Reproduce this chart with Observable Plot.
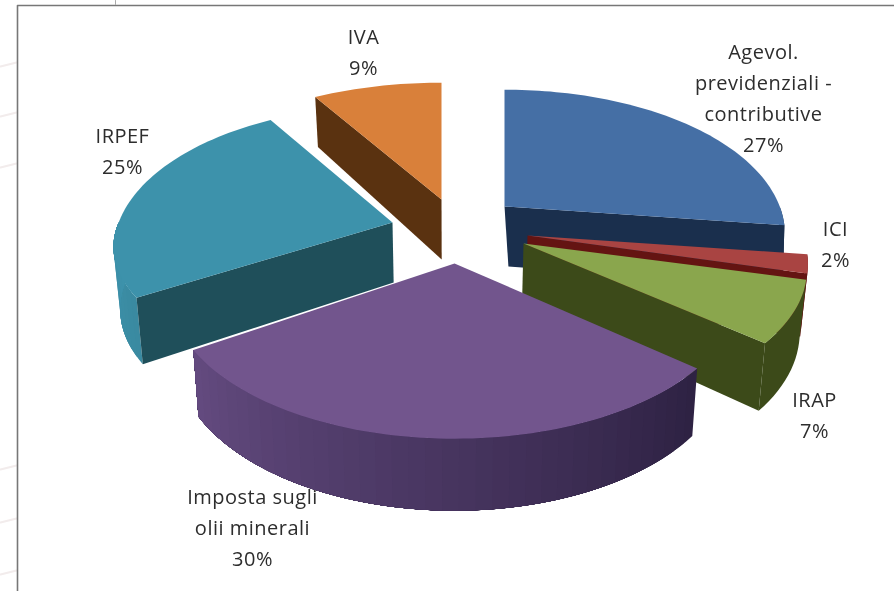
<!DOCTYPE html>
<html>
<head>
<meta charset="utf-8">
<script src="https://cdn.jsdelivr.net/npm/d3@7"></script>
<script src="https://cdn.jsdelivr.net/npm/@observablehq/plot@0.6"></script>
<style>
html,body{margin:0;padding:0;background:#fff;overflow:hidden}
svg{display:block;filter:blur(0.35px)}
</style>
</head>
<body>
<div id="chart"></div>
<script>
// Data, clockwise from the top of the pie
const categories = ["Agevol.\nprevidenziali -\ncontributive", "ICI", "IRAP", "Imposta sugli\nolii minerali", "IRPEF", "IVA"];
const shares = [27, 2, 7, 30, 25, 9];

// Styles
const topColors = ["#456fa5", "#a94442", "#8aa64d", "#72558d", "#3d92ab", "#d9803a"];
const cutColors = ["#1a2f4d", "#641412", "#3c4a19", "#2d2142", "#1f4f5a", "#5a3210"];
const wallFrom  = ["#1a2f4d", "#641412", "#3c4a19", "#2d2142", "#3a8aa0", "#5a3210"];
const wallTo    = ["#1a2f4d", "#641412", "#3c4a19", "#644b80", "#3d92ab", "#5a3210"];

// Layout of the exploded 3D view (pixels of the plot frame)
const apexX = [504, 527, 523, 454, 392, 441];
const apexY = [206, 235, 243, 263, 222, 199];
const widthScale = [0.99, 0.99, 1, 1.005, 0.985, 1.02];
const frontSquash = [1, 1, 0.95, 1, 0.87, 1];
const dropShift = [5, 0, 0, 0, 0, 0];
const labelX = [763, 835, 814, 252, 122, 363];
const labelY = [95, 241, 412, 525, 148, 49];
const paintOrder = [5, 0, 4, 1, 2, 3];
const rx = 278, ry = 146, persp = 0.2, depth = 60, vanishX = 450, lean = 0.98;

const rad = d => d * Math.PI / 180;
const cumul = d3.cumsum(shares);
const total = d3.sum(shares);
const startAngle = i => (i ? cumul[i - 1] : 0) / total * 360;
const endAngle = i => cumul[i] / total * 360;

function rimTop(i, t) {
  const c = Math.cos(rad(t)), s = Math.sin(rad(t));
  const p = 1 - persp * c;
  return {
    x: apexX[i] + rx * widthScale[i] * p * s,
    y: apexY[i] - ry * p * c * (c < 0 ? frontSquash[i] : 1),
    p
  };
}
function drop(i, pt, p) {
  return { x: vanishX + (pt.x - vanishX) * lean + dropShift[i], y: pt.y + depth * p };
}

const rows = [];
let id = 0;
function addPoly(points, fill) {
  id++;
  for (const q of points) rows.push({ id, x: q.x, y: q.y, fill });
}

for (const i of paintOrder) {
  const t0 = startAngle(i), t1 = endAngle(i);
  const apex = { x: apexX[i], y: apexY[i] };
  const apexLow = drop(i, apex, 1);
  // outer wall, front-facing part only; each band runs to the wall's end so no seams show
  const wa = Math.max(t0, 90), wb = Math.min(t1, 270);
  const mix = d3.interpolateRgb(wallFrom[i], wallTo[i]);
  const same = wallFrom[i] === wallTo[i];
  const wallSteps = same ? 1 : Math.max(2, Math.ceil((wb - wa) / 3));
  if (wb > wa) {
    for (let k = 0; k < wallSteps; k++) {
      const a = wa + (wb - wa) * k / wallSteps;
      const n = Math.max(2, Math.ceil((wb - a) / 2));
      const upper = [], lower = [];
      for (let m = 0; m <= n; m++) {
        const R = rimTop(i, a + (wb - a) * m / n);
        upper.push(R);
        lower.unshift(drop(i, R, R.p));
      }
      addPoly([...upper, ...lower], mix((k + 0.5) / wallSteps));
    }
  }
  // cut faces that look towards the viewer
  if (t0 > 180 && t0 < 360) {
    const E = rimTop(i, t0);
    addPoly([apex, E, drop(i, E, E.p), apexLow], cutColors[i]);
  }
  if (t1 > 0 && t1 < 180) {
    const E = rimTop(i, t1);
    addPoly([apex, E, drop(i, E, E.p), apexLow], cutColors[i]);
  }
  // top face
  const rim = [];
  const steps = Math.ceil((t1 - t0) / 1.5);
  for (let k = 0; k <= steps; k++) rim.push(rimTop(i, t0 + (t1 - t0) * k / steps));
  addPoly([apex, ...rim], topColors[i]);
}

const labels = categories.map((c, i) => ({
  text: `${c}\n${shares[i]}%`, x: labelX[i], y: labelY[i]
}));

// Slide frame and the faint remains of the slide behind it
const frame = [{x: 17, y: 591}, {x: 17, y: 5}, {x: 894, y: 5}];
const stub = [{x: 115, y: 0}, {x: 115, y: 4}];
const faintY = [62, 112, 163, 465, 518, 570];
const faint = faintY.flatMap((y, k) => [{k, x: 0, y: y + 4}, {k, x: 16, y}]);

const chart = Plot.plot({
  width: 894,
  height: 591,
  margin: 0,
  x: { domain: [0, 894], range: [0, 894], axis: null },
  y: { domain: [0, 591], range: [0, 591], axis: null },
  style: { background: "#fff" },
  marks: [
    Plot.line(faint, { x: "x", y: "y", z: "k", stroke: "#f2ecec", strokeWidth: 2 }),
    Plot.line(rows, {
      x: "x", y: "y", z: "id",
      fill: "fill", stroke: "none",
      curve: "linear-closed"
    }),
    Plot.line(frame, { x: "x", y: "y", stroke: "#777", strokeWidth: 1.6 }),
    Plot.line(stub, { x: "x", y: "y", stroke: "#aaa", strokeWidth: 1 }),
    Plot.text(labels, {
      x: "x", y: "y", text: "text",
      fontFamily: "Open Sans", fontSize: 20, lineHeight: 1.55,
      fill: "#2d2d2d", textAnchor: "middle", lineAnchor: "middle",
      style: { letterSpacing: "0.5px" }
    })
  ]
});
chart.querySelectorAll("text").forEach(t => t.style.letterSpacing = "0.5px");
document.getElementById("chart").append(chart);
</script>
</body>
</html>
